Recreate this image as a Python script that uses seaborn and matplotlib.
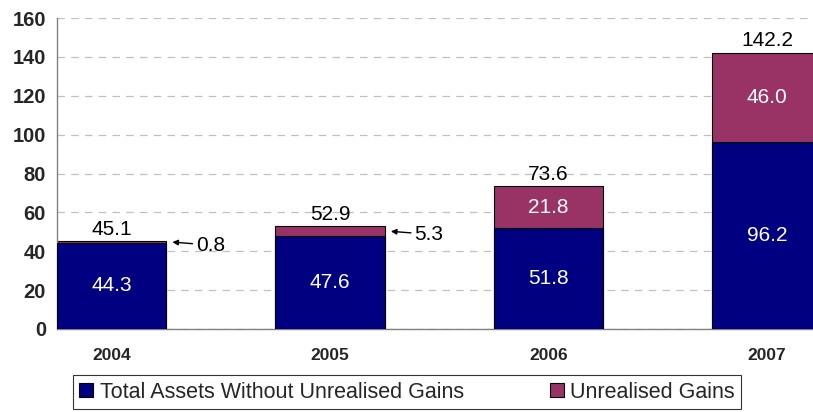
"""Stacked bar chart: total assets with/without unrealised gains, 2004-2007."""

import numpy as np
import pandas as pd
import matplotlib

matplotlib.use("Agg")

import matplotlib.pyplot as plt
from matplotlib.patches import Patch
import seaborn as sns

years = ["2004", "2005", "2006", "2007"]
base_assets = [44.3, 47.6, 51.8, 96.2]
unrealised = [0.8, 5.3, 21.8, 46.0]
totals = [45.1, 52.9, 73.6, 142.2]

NAVY = "#000080"
PURPLE = "#993366"

sns.set_style("white")
plt.rcParams["font.family"] = ["Liberation Sans", "DejaVu Sans"]

df = pd.DataFrame({"year": years, "base": base_assets, "gain": unrealised, "total": totals})

fig = plt.figure(figsize=(8.13, 4.12), dpi=100)
ax = fig.add_axes([57 / 813, 83 / 412, 1 - 57 / 813, (329 - 18) / 412])

# stacked look: total bar in purple, base part drawn over it in navy
sns.barplot(data=df, x="year", y="total", color=PURPLE, saturation=1,
            width=0.5, edgecolor="black", linewidth=0.8, ax=ax, zorder=2)
sns.barplot(data=df, x="year", y="base", color=NAVY, saturation=1,
            width=0.5, edgecolor="black", linewidth=0.8, ax=ax, zorder=3)

ax.set_yticks(np.arange(0, 161, 20))
ax.yaxis.grid(True, linestyle=(0, (6, 5)), color="#c0c0c0", linewidth=0.9)
ax.set_axisbelow(True)
ax.set_xlabel("")
ax.set_ylabel("")

for side in ("top", "right"):
    ax.spines[side].set_visible(False)
for side in ("left", "bottom"):
    ax.spines[side].set_color("#808080")
    ax.spines[side].set_linewidth(1.0)

ax.tick_params(axis="y", which="major", direction="out", length=5, width=1,
               color="#808080", labelsize=14.5, pad=3)
for lbl in ax.get_yticklabels():
    lbl.set_fontweight("bold")

ax.set_xticks(range(len(years)))
ax.set_xticklabels(years, fontweight="bold", fontsize=12.5)
ax.tick_params(axis="x", which="major", length=0, pad=14)
ax.set_xticks(np.arange(-0.25, 3.3, 0.5), minor=True)
ax.tick_params(axis="x", which="minor", direction="out", length=5, width=1,
               color="#808080")

# limits last: set_xticks widens the view otherwise
ax.set_xlim(-0.25, 3.21)
ax.set_ylim(0, 160)

# value labels
for i in range(len(years)):
    ax.text(i, totals[i] + 1.2, f"{totals[i]:.1f}", ha="center", va="bottom",
            fontsize=15, color="black")
    ax.text(i, base_assets[i] / 2, f"{base_assets[i]:.1f}", ha="center", va="center",
            fontsize=15, color="white")
    if unrealised[i] > 10:
        ax.text(i, base_assets[i] + unrealised[i] / 2, f"{unrealised[i]:.1f}",
                ha="center", va="center", fontsize=15, color="white")

# small gains pointed to with arrows
for i in range(2):
    tip_y = base_assets[i] + unrealised[i] / 2
    ax.annotate(f"{unrealised[i]:.1f}", xy=(i + 0.278, tip_y),
                xytext=(i + 0.385, tip_y - 1.5), ha="left", va="center",
                fontsize=15, color="black",
                arrowprops=dict(arrowstyle="-|>", color="black", lw=1,
                                mutation_scale=8, shrinkA=0, shrinkB=0))

handles = [
    Patch(facecolor=NAVY, edgecolor="black", linewidth=0.8,
          label="Total Assets Without Unrealised Gains"),
    Patch(facecolor=PURPLE, edgecolor="black", linewidth=0.8,
          label="Unrealised Gains"),
]
leg = fig.legend(handles=handles, loc="center", bbox_to_anchor=(407 / 813, 20 / 412),
                 ncol=2, fontsize=15.5, frameon=True, fancybox=False,
                 edgecolor="black", columnspacing=4.0, handlelength=0.65,
                 handleheight=0.65, handletextpad=0.3, borderpad=0.3)
leg.get_frame().set_linewidth(0.8)

fig.savefig("out.png", dpi=100)
plt.close(fig)
